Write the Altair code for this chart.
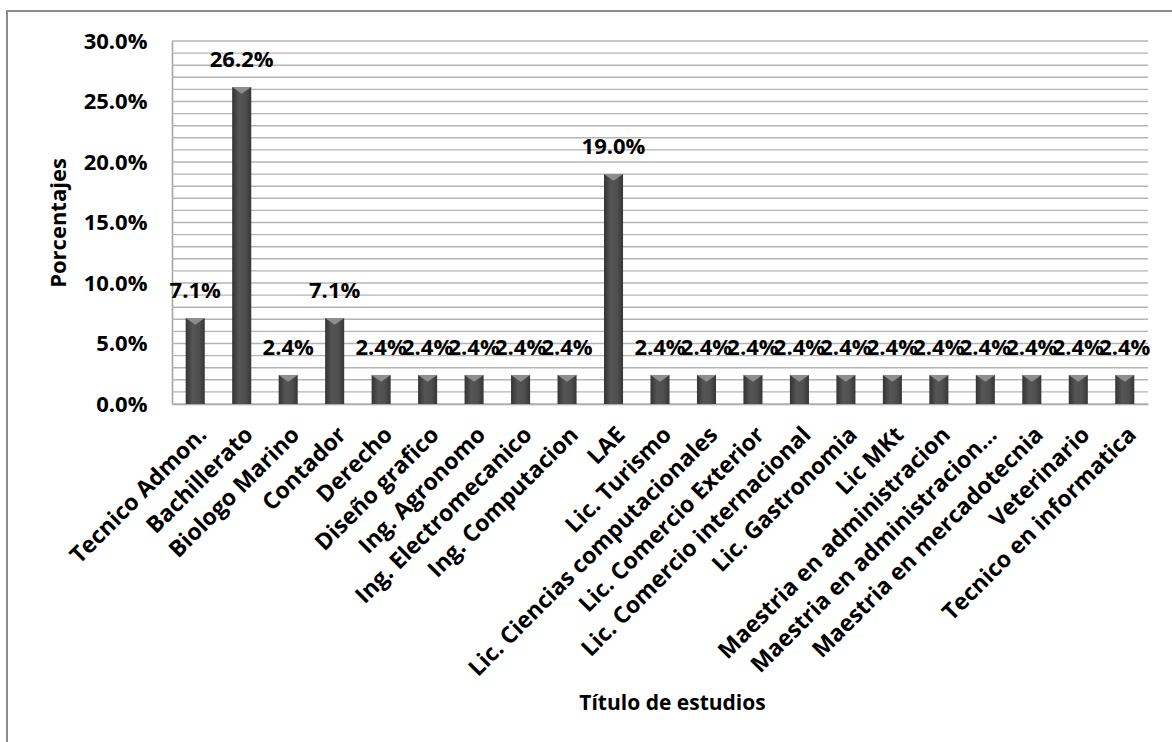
import altair as alt
import pandas as pd

# Survey: distribution of respondents by degree / title of studies
titulos = [
    "Tecnico Admon.", "Bachillerato", "Biologo Marino", "Contador", "Derecho",
    "Diseño grafico", "Ing. Agronomo", "Ing. Electromecanico", "Ing. Computacion",
    "LAE", "Lic. Turismo", "Lic. Ciencias computacionales", "Lic. Comercio Exterior",
    "Lic. Comercio internacional", "Lic. Gastronomia", "Lic MKt",
    "Maestria en administracion", "Maestria en administracion…",
    "Maestria en mercadotecnia", "Veterinario", "Tecnico en informatica",
]
porcentajes = [
    0.071, 0.262, 0.024, 0.071, 0.024,
    0.024, 0.024, 0.024, 0.024,
    0.190, 0.024, 0.024, 0.024,
    0.024, 0.024, 0.024,
    0.024, 0.024,
    0.024, 0.024, 0.024,
]
y_ticks = [round(i * 0.05, 2) for i in range(7)]
grid_values = [round(i * 0.01, 2) for i in range(31)]

df = pd.DataFrame({"titulo": titulos, "pct": porcentajes})
grid_df = pd.DataFrame({"g": grid_values})

FONT = "Open Sans"
W, H = 976, 363

x_enc = alt.X(
    "titulo:N",
    sort=titulos,
    title="Título de estudios",
    scale=alt.Scale(paddingInner=0.59, paddingOuter=0.295),
    axis=alt.Axis(
        labelAngle=-45,
        labelAlign="right",
        labelBaseline="top",
        labelFont=FONT,
        labelFontSize=23,
        labelFontWeight="bold",
        labelColor="black",
        labelPadding=19,
        labelLimit=400,
        ticks=False,
        domainColor="#a0a0a0",
        domainWidth=1.5,
        titleFont=FONT,
        titleFontSize=21,
        titleFontWeight="bold",
        titleColor="black",
        titleX=500,
        titleY=299,
        titleAlign="center",
        titleBaseline="middle",
    ),
)

y_scale = alt.Scale(domain=[0, 0.30], nice=False)

grid = alt.Chart(grid_df).mark_rule(color="#b4b4b4", strokeWidth=1.4).encode(
    y=alt.Y("g:Q", scale=y_scale),
    x=alt.value(0),
    x2=alt.value(W),
)

bar_gradient = alt.Gradient(
    gradient="linear",
    x1=0, x2=1, y1=0, y2=0,
    stops=[
        alt.GradientStop(color="#333333", offset=0),
        alt.GradientStop(color="#555555", offset=0.35),
        alt.GradientStop(color="#4f4f4f", offset=0.7),
        alt.GradientStop(color="#363636", offset=1),
    ],
)

base = alt.Chart(df)

bars = base.mark_bar(color=bar_gradient).encode(
    x=x_enc,
    y=alt.Y(
        "pct:Q",
        scale=y_scale,
        title="Porcentajes",
        axis=alt.Axis(
            values=y_ticks,
            format=".1%",
            grid=False,
            ticks=False,
            labelFont=FONT,
            labelFontSize=22,
            labelFontWeight="bold",
            labelColor="black",
            labelPadding=25,
            domainColor="#a0a0a0",
            domainWidth=1.5,
            titleFont=FONT,
            titleFontSize=22,
            titleFontWeight="bold",
            titleColor="black",
            titlePadding=13,
        ),
    ),
)

# bevelled cap on top of each bar
caps = base.mark_point(
    shape="M -1 0 L 1 0 L 0 0.7 Z",
    filled=True,
    size=370,
    color="#8e8e8e",
    opacity=1,
).encode(
    x=alt.X("titulo:N", sort=titulos),
    y=alt.Y("pct:Q", scale=y_scale),
)

labels = base.mark_text(
    font=FONT,
    fontSize=22,
    fontWeight="bold",
    color="black",
    baseline="bottom",
    dy=-15,
).encode(
    x=alt.X("titulo:N", sort=titulos),
    y=alt.Y("pct:Q", scale=y_scale),
    text=alt.Text("pct:Q", format=".1%"),
)

# outer chart frame
frame_df = pd.DataFrame({"k": [0]})
frame = alt.Chart(frame_df).mark_rect(
    fill=None, stroke="#8c8c8c", strokeWidth=2
).encode(
    x=alt.value(-165),
    x2=alt.value(W + 60),
    y=alt.value(-30),
    y2=alt.value(H + 400),
)

chart = alt.layer(frame, grid, bars, caps, labels).properties(
    width=W,
    height=H,
    autosize=alt.AutoSizeParams(type="none"),
    padding={"left": 172, "top": 41, "right": 1172 - 172 - W, "bottom": 742 - 41 - H},
    background="white",
).configure_view(stroke=None)

chart.save("out.html", embed_options={"renderer": "svg", "actions": False})
